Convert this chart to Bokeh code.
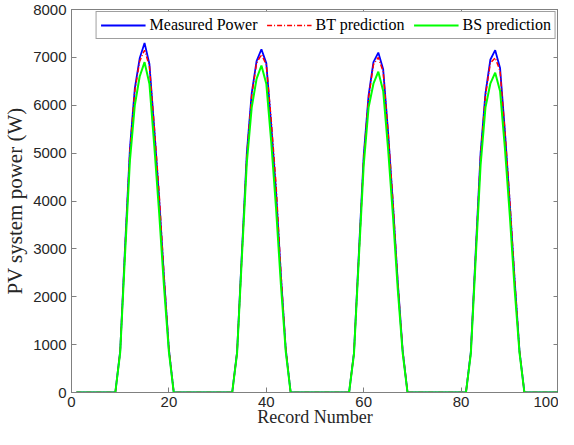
from bokeh.plotting import figure
from bokeh.models import LinearAxis, Legend, LegendItem, FixedTicker, Range1d
from bokeh.embed import file_html
from bokeh.resources import INLINE

record = list(range(1, 101))

measured = [0, 0, 0, 0, 0, 0, 0, 0, 0,
            870, 3050, 5100, 6350, 6980, 7300, 6860, 5500, 4050, 2400, 900,
            0, 0, 0, 0, 0, 0, 0, 0, 0, 0, 0, 0, 0,
            850, 2950, 5000, 6250, 6920, 7170, 6880, 5600, 4200, 2450, 900,
            0, 0, 0, 0, 0, 0, 0, 0, 0, 0, 0, 0, 0,
            830, 2900, 4950, 6200, 6900, 7100, 6750, 5450, 3950, 2300, 880,
            0, 0, 0, 0, 0, 0, 0, 0, 0, 0, 0, 0, 0,
            850, 2950, 5000, 6250, 6950, 7150, 6780, 5450, 3950, 2350, 860,
            0, 0, 0, 0, 0, 0, 0, 0]

bt_pred = [0, 0, 0, 0, 0, 0, 0, 0, 0,
           860, 3000, 5050, 6300, 6920, 7150, 6820, 5550, 4150, 2450, 920,
           0, 0, 0, 0, 0, 0, 0, 0, 0, 0, 0, 0, 0,
           840, 2900, 4950, 6200, 6880, 7060, 6850, 5700, 4350, 2500, 920,
           0, 0, 0, 0, 0, 0, 0, 0, 0, 0, 0, 0, 0,
           820, 2850, 4900, 6150, 6850, 7000, 6700, 5450, 4000, 2300, 880,
           0, 0, 0, 0, 0, 0, 0, 0, 0, 0, 0, 0, 0,
           840, 2900, 4950, 6200, 6880, 6990, 6720, 5450, 4000, 2350, 860,
           0, 0, 0, 0, 0, 0, 0, 0]

bs_pred = [0, 0, 0, 0, 0, 0, 0, 0, 0,
           840, 2900, 4850, 6000, 6600, 6900, 6450, 5150, 3750, 2200, 850,
           0, 0, 0, 0, 0, 0, 0, 0, 0, 0, 0, 0, 0,
           820, 2850, 4800, 5950, 6550, 6830, 6450, 5250, 3850, 2250, 850,
           0, 0, 0, 0, 0, 0, 0, 0, 0, 0, 0, 0, 0,
           800, 2800, 4750, 5950, 6450, 6700, 6300, 5100, 3700, 2150, 830,
           0, 0, 0, 0, 0, 0, 0, 0, 0, 0, 0, 0, 0,
           810, 2800, 4750, 5950, 6450, 6680, 6300, 5100, 3700, 2150, 820,
           0, 0, 0, 0, 0, 0, 0, 0]

x_ticks = [0, 20, 40, 60, 80, 100]
y_ticks = [0, 1000, 2000, 3000, 4000, 5000, 6000, 7000, 8000]

AX = "#808080"
TXT = "#262626"

p = figure(width=558, height=429, output_backend="svg", toolbar_location=None,
           x_range=Range1d(0, 100), y_range=Range1d(0, 8000),
           min_border_top=9, min_border_right=0, min_border_left=10, min_border_bottom=10)
p.xgrid.visible = False
p.ygrid.visible = False
p.outline_line_color = AX
p.outline_line_width = 1
p.background_fill_color = "white"

l1 = p.line(record, measured, line_color="#0000ff", line_width=1.8)
l2 = p.line(record, bt_pred, line_color="#ff0000", line_width=1.5, line_dash="5 2 1 2")
l3 = p.line(record, bs_pred, line_color="#00ff00", line_width=2)

for ax in (p.xaxis[0], p.yaxis[0]):
    ax.axis_line_color = AX
    ax.major_tick_line_color = AX
    ax.minor_tick_line_color = None
    ax.major_tick_in = 5
    ax.major_tick_out = 0
    ax.minor_tick_in = 0
    ax.minor_tick_out = 0
    ax.major_label_text_font = "Liberation Sans"
    ax.major_label_text_font_size = "15px"
    ax.major_label_text_color = TXT
    ax.axis_label_text_font = "Liberation Serif"
    ax.axis_label_text_font_style = "normal"
    ax.axis_label_text_color = TXT

p.xaxis.ticker = FixedTicker(ticks=x_ticks)
p.yaxis.ticker = FixedTicker(ticks=y_ticks)
p.xaxis.axis_label = "Record Number"
p.yaxis.axis_label = "PV system power (W)"
p.xaxis.axis_label_text_font_size = "18px"
p.yaxis.axis_label_text_font_size = "21px"
p.xaxis.major_label_standoff = 4
p.xaxis.axis_label_standoff = -3
p.yaxis.major_label_standoff = 5
p.yaxis.axis_label_standoff = 3

# label-free tick marks on the top and right frame edges (minor ticks carry no labels)
top_ax = LinearAxis(ticker=FixedTicker(ticks=[], minor_ticks=x_ticks))
right_ax = LinearAxis(ticker=FixedTicker(ticks=[], minor_ticks=y_ticks))
for ax in (top_ax, right_ax):
    ax.axis_line_color = AX
    ax.major_tick_line_color = None
    ax.major_tick_in = 0
    ax.major_tick_out = 0
    ax.minor_tick_line_color = AX
    ax.minor_tick_in = 5
    ax.minor_tick_out = 0
    ax.major_label_standoff = 0
p.add_layout(top_ax, "above")
p.add_layout(right_ax, "right")

legend = Legend(items=[LegendItem(label="Measured Power", renderers=[l1]),
                       LegendItem(label="BT prediction", renderers=[l2]),
                       LegendItem(label="BS prediction", renderers=[l3])],
                location="top_right", orientation="horizontal")
legend.label_text_font = "Liberation Serif"
legend.label_text_font_size = "16px"
legend.label_text_color = "black"
legend.glyph_width = 45
legend.glyph_height = 14
legend.label_standoff = 4
legend.spacing = 9
legend.padding = 4
legend.margin = 2
legend.border_line_color = "#404040"
legend.border_line_width = 1
legend.background_fill_color = "white"
legend.background_fill_alpha = 1
p.add_layout(legend, "center")

open("out.html", "w").write(file_html(p, INLINE))
